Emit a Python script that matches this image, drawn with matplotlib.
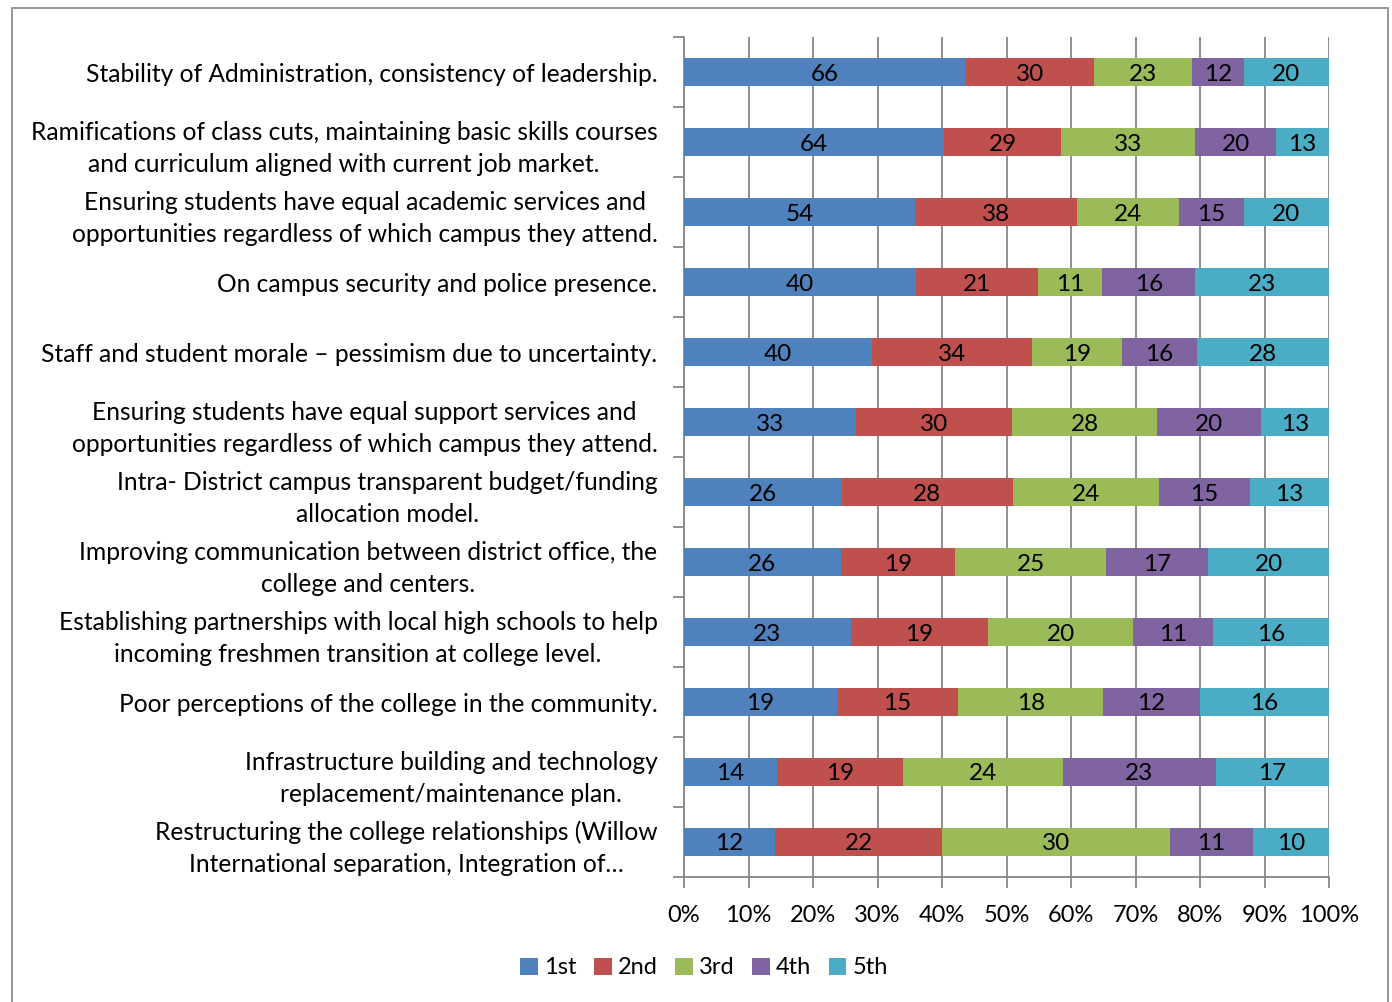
import matplotlib
matplotlib.use("Agg")
import matplotlib.pyplot as plt
import numpy as np
from matplotlib.patches import Rectangle

plt.rcParams['font.family'] = ['Lato', 'DejaVu Sans']

categories = [
    "Stability of Administration, consistency of leadership.",
    "Ramifications of class cuts, maintaining basic skills courses\nand curriculum aligned with current job market.",
    "Ensuring students have equal academic services and\nopportunities regardless of which campus they attend.",
    "On campus security and police presence.",
    "Staff and student morale \u2013 pessimism due to uncertainty.",
    "Ensuring students have equal support services and\nopportunities regardless of which campus they attend.",
    "Intra- District campus transparent budget/funding\nallocation model.",
    "Improving communication between district office, the\ncollege and centers.",
    "Establishing partnerships with local high schools to help\nincoming freshmen transition at college level.",
    "Poor perceptions of the college in the community.",
    "Infrastructure building and technology\nreplacement/maintenance plan.",
    "Restructuring the college relationships (Willow\nInternational separation, Integration of\u2026",
]
first = [66, 64, 54, 40, 40, 33, 26, 26, 23, 19, 14, 12]
second = [30, 29, 38, 21, 34, 30, 28, 19, 19, 15, 19, 22]
third = [23, 33, 24, 11, 19, 28, 24, 25, 20, 18, 24, 30]
fourth = [12, 20, 15, 16, 16, 20, 15, 17, 11, 12, 23, 11]
fifth = [20, 13, 20, 23, 28, 13, 13, 20, 16, 16, 17, 10]
series_names = ["1st", "2nd", "3rd", "4th", "5th"]
colors = ["#4F81BD", "#C0504D", "#9BBB59", "#8064A2", "#4BACC6"]
xticklabels = ["0%", "10%", "20%", "30%", "40%", "50%", "60%", "70%", "80%", "90%", "100%"]

data = np.array([first, second, third, fourth, fifth], dtype=float)
totals = data.sum(axis=0)
pct = data / totals * 100

fig = plt.figure(figsize=(13.92, 10.02), dpi=100)
ax = fig.add_axes([684/1392, 1-877/1002, 645/1392, 840/1002])

FS = 17.5
n = len(categories)
y = np.arange(n)[::-1]  # first category on top
left = np.zeros(n)
for i, name in enumerate(series_names):
    ax.barh(y, pct[i], left=left, height=0.4, color=colors[i], label=name, zorder=3)
    for j in range(n):
        ax.text(left[j] + pct[i][j]/2, y[j], f"{int(data[i][j])}", ha='center', va='center_baseline',
                fontsize=FS, color='black', zorder=4)
    left += pct[i]

ax.set_xlim(0, 100)
ax.set_ylim(-0.5, n-0.5)
ax.set_xticks(np.arange(0, 101, 10))
ax.set_xticklabels(xticklabels, fontsize=17)
ax.set_yticks(y)
ax.set_yticklabels(categories, fontsize=17.7, linespacing=1.45, multialignment='center')
ax.set_yticks(np.arange(-0.5, n, 1), minor=True)
ax.tick_params(axis='y', which='major', length=0, pad=19)
ax.tick_params(axis='y', which='minor', length=8, color='#868686', width=1.3)
ax.tick_params(axis='x', which='major', length=8, color='#868686', width=1.3, pad=12)
ax.grid(axis='x', color='#868686', linewidth=1.3, zorder=0)
for s in ['top', 'right']:
    ax.spines[s].set_visible(False)
for s in ['left', 'bottom']:
    ax.spines[s].set_color('#868686')
    ax.spines[s].set_linewidth(1.3)

leg = fig.legend(loc='center', bbox_to_anchor=(704/1392, 1-968/1002), ncol=5, frameon=False,
                 fontsize=17, handlelength=0.75, handleheight=0.75, handletextpad=0.25,
                 columnspacing=0.75)

fig.patches.append(Rectangle((12/1392, -0.01), (1388-12)/1392, (1-8/1002)+0.01, transform=fig.transFigure,
                             fill=False, edgecolor='#8C8C8C', linewidth=1.3))

fig.savefig("out.png", dpi=100)
